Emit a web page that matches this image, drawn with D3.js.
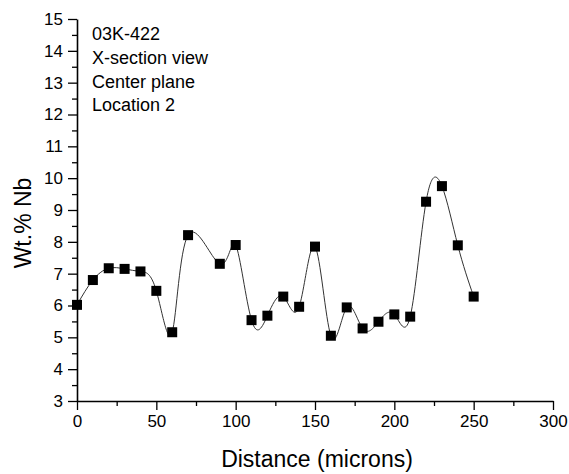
<!DOCTYPE html>
<html>
<head>
<meta charset="utf-8">
<script src="https://cdn.jsdelivr.net/npm/d3@7"></script>
<style>
  body { margin: 0; background: #fff; }
  text { font-family: "Liberation Sans", Arial, sans-serif; fill: #000; }
</style>
</head>
<body>
<div id="chart"></div>
<script>
// data
var distance = [0, 10, 20, 30, 40, 50, 60, 70, 90, 100, 110, 120, 130, 140, 150,
  160, 170, 180, 190, 200, 210, 220, 230, 240, 250];
var wtNb = [6.02, 6.80, 7.17, 7.15, 7.07, 6.46, 5.16, 8.21, 7.31, 7.90, 5.54, 5.68, 6.28, 5.96, 7.85,
  5.05, 5.94, 5.28, 5.49, 5.72, 5.65, 9.26, 9.75, 7.89, 6.28];
var xTicks = [0, 50, 100, 150, 200, 250, 300];
var yTicks = [3, 4, 5, 6, 7, 8, 9, 10, 11, 12, 13, 14, 15];
var notes = ["03K-422", "X-section view", "Center plane", "Location 2"];

// set the dimensions and margins of the graph
var margin = { top: 19, right: 16, bottom: 73, left: 77 },
  width = 569 - margin.left - margin.right,
  height = 474 - margin.top - margin.bottom;

var svg = d3.select("#chart")
  .append("svg")
  .attr("width", 569)
  .attr("height", 474)
  .append("g")
  .attr("transform", "translate(" + margin.left + "," + margin.top + ")");

var data = distance.map(function (d, i) { return { x: d, y: wtNb[i] }; });

var x = d3.scaleLinear().domain([0, 300]).range([0, width]);
var y = d3.scaleLinear().domain([3, 15]).range([height, 0]);

// minor ticks first so the major ones sit on top
svg.append("g")
  .attr("transform", "translate(0," + height + ")")
  .call(d3.axisBottom(x).tickValues(d3.range(25, 300, 50)).tickSize(5).tickFormat(""))
  .call(g => g.select(".domain").remove());
svg.append("g")
  .call(d3.axisLeft(y).tickValues(d3.range(3.5, 15, 1)).tickSize(5).tickFormat(""))
  .call(g => g.select(".domain").remove());

var xAxis = svg.append("g")
  .attr("transform", "translate(0," + height + ")")
  .call(d3.axisBottom(x).tickValues(xTicks).tickSize(9).tickPadding(5).tickSizeOuter(0));
var yAxis = svg.append("g")
  .call(d3.axisLeft(y).tickValues(yTicks).tickSize(9).tickPadding(5).tickSizeOuter(0));

[xAxis, yAxis].forEach(function (a) {
  a.selectAll("text").attr("font-size", 17).style("font-family", '"Liberation Sans", Arial, sans-serif');
});
svg.selectAll(".domain").attr("stroke", "#000").attr("stroke-width", 1.6);
svg.selectAll(".tick line").attr("stroke", "#000").attr("stroke-width", 1.3);

// spline through the points
var line = d3.line()
  .x(function (d) { return x(d.x); })
  .y(function (d) { return y(d.y); })
  .curve(d3.curveNatural);

svg.append("path")
  .datum(data)
  .attr("d", line)
  .attr("fill", "none")
  .attr("stroke", "#333")
  .attr("stroke-width", 1);

// square markers
svg.selectAll(".pt")
  .data(data)
  .enter()
  .append("rect")
  .attr("class", "pt")
  .attr("x", function (d) { return x(d.x) - 5; })
  .attr("y", function (d) { return y(d.y) - 5; })
  .attr("width", 10)
  .attr("height", 10)
  .attr("fill", "#000");

// axis titles
svg.append("text")
  .attr("x", width / 2 + 2)
  .attr("y", height + 66)
  .attr("text-anchor", "middle")
  .attr("font-size", 23)
  .text("Distance (microns)");

svg.append("text")
  .attr("transform", "translate(" + (31 - margin.left) + "," + (223 - margin.top) + ") rotate(-90)")
  .attr("text-anchor", "middle")
  .attr("font-size", 23)
  .text("Wt.% Nb");

// sample notes
svg.selectAll(".note")
  .data(notes)
  .enter()
  .append("text")
  .attr("class", "note")
  .attr("x", 92 - margin.left)
  .attr("y", function (d, i) { return 40 - margin.top + i * 23.8; })
  .attr("font-size", 18)
  .text(function (d) { return d; });
</script>
</body>
</html>
